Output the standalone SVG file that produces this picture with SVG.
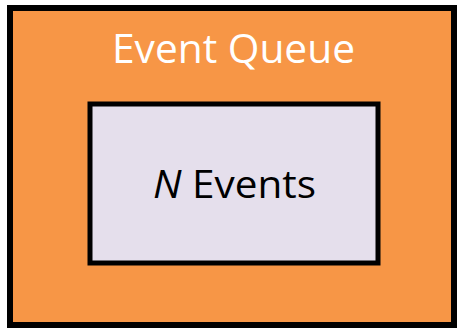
<svg xmlns="http://www.w3.org/2000/svg" width="458" height="330" viewBox="0 0 458 330">
  <style>
    .box { stroke: #000; stroke-linejoin: miter; }
    .label { font-family: "Open Sans", "Liberation Sans", sans-serif; text-anchor: middle; }
  </style>
  <rect width="458" height="330" fill="#fff"/>
  <g id="event-queue">
    <rect class="box" x="10" y="8" width="444" height="317" fill="#F79646" stroke-width="6"/>
    <text class="label" x="233.5" y="62.5" font-size="41" fill="#fff" textLength="243" lengthAdjust="spacingAndGlyphs">Event Queue</text>
  </g>
  <g id="n-events">
    <rect class="box" x="90" y="104" width="288" height="159" fill="#E5DFEC" stroke-width="5"/>
    <text class="label" x="234.5" y="197.5" font-size="38" fill="#000" textLength="163" lengthAdjust="spacingAndGlyphs"><tspan font-style="italic">N</tspan> Events</text>
  </g>
</svg>
